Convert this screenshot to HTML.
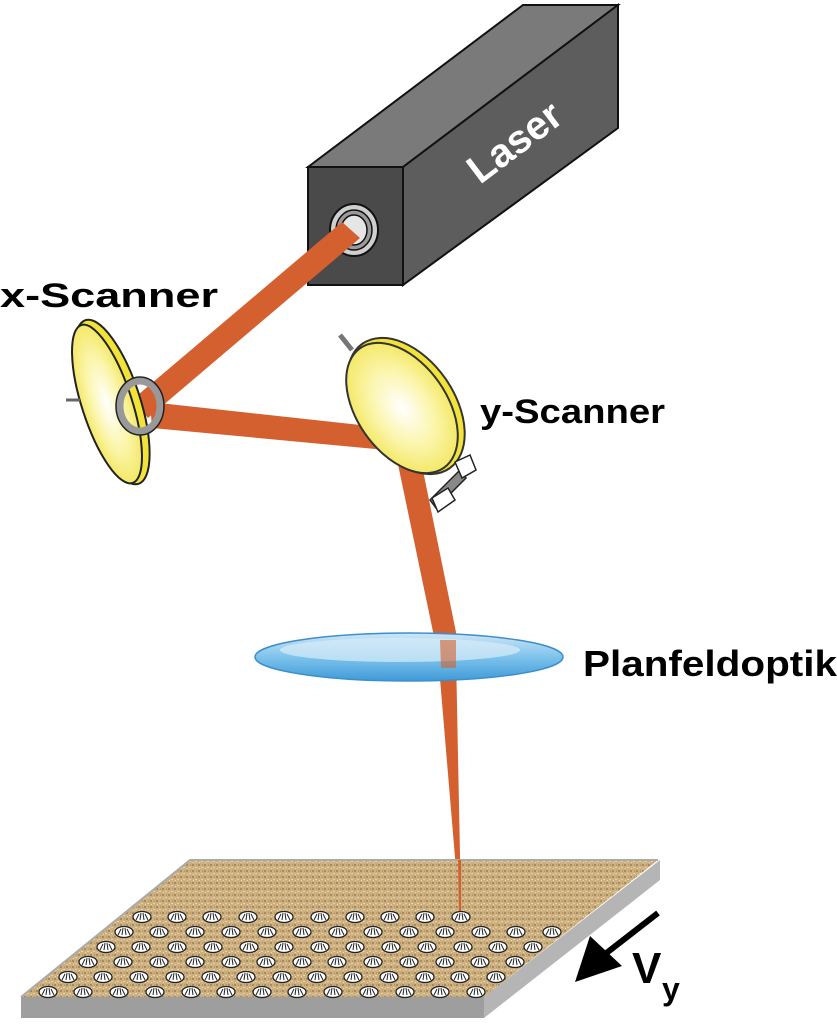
<!DOCTYPE html>
<html><head><meta charset="utf-8"><style>
html,body{margin:0;padding:0;background:#fff;}
svg{display:block;}
text{font-family:"Liberation Sans",sans-serif;font-weight:bold;}
</style></head><body>
<svg width="837" height="1024" viewBox="0 0 837 1024" xmlns="http://www.w3.org/2000/svg">
<defs>
<radialGradient id="yel" cx="0.5" cy="0.5" r="0.6">
<stop offset="0" stop-color="#ffffff"/><stop offset="0.5" stop-color="#fbf5a8"/><stop offset="1" stop-color="#f0e24a"/></radialGradient>
<linearGradient id="blue" x1="0" y1="0" x2="0" y2="1">
<stop offset="0" stop-color="#cfe6f6"/><stop offset="0.5" stop-color="#7ec3ec"/><stop offset="1" stop-color="#3f9ad8"/></linearGradient>
<pattern id="sand" width="6" height="6" patternUnits="userSpaceOnUse">
<rect width="6" height="6" fill="#cdae7c"/><rect x="0" y="0" width="2" height="2" fill="#8f7550"/><rect x="3" y="3" width="2" height="1" fill="#efe2c8"/><rect x="4" y="0" width="1" height="2" fill="#a88c60"/><rect x="1" y="4" width="1" height="1" fill="#f5ecd8"/></pattern>
<g id="dot"><ellipse cx="0" cy="0" rx="9" ry="5.5" fill="#fff" stroke="#222" stroke-width="1.3"/><path d="M-6 3 L-3 -3 M-2 3 L-1 -4 M2 3 L1 -4 M6 3 L3 -3" stroke="#222" stroke-width="1"/></g>
</defs>

<!-- Laser box -->
<polygon points="308,167 523,5 618,5 403,167" fill="#7a7a7a" stroke="#111" stroke-width="2"/>
<polygon points="403,167 618,5 618,128 403,285" fill="#5d5d5d" stroke="#111" stroke-width="2"/>
<rect x="308" y="167" width="95" height="118" fill="#4a4a4a" stroke="#111" stroke-width="2"/>
<text x="0" y="0" font-size="40" fill="#fff" transform="translate(480,185) rotate(-37)">Laser</text>
<ellipse cx="354" cy="230" rx="24" ry="26" fill="#cfcfcf" stroke="#111" stroke-width="2"/>
<ellipse cx="354" cy="230" rx="18" ry="20" fill="#9a9a9a" stroke="#111" stroke-width="1.5"/>
<ellipse cx="354" cy="230" rx="13" ry="15" fill="#e6e6e6" stroke="#111" stroke-width="1.5"/>

<!-- beams -->
<polygon points="342,222 360,238 148,418 132,400" fill="#d4602f"/>
<polygon points="150,402 388,428 386,450 152,428" fill="#d4602f"/>
<polygon points="395,450 418,446 458,642 436,646" fill="#d4602f"/>
<polygon points="438,655 456,655 461,905 459,905" fill="#d4602f"/>

<!-- x scanner -->
<ellipse cx="112" cy="402" rx="28" ry="86" transform="rotate(-18 112 402)" fill="#f2e33a" stroke="#222" stroke-width="2"/>
<ellipse cx="107" cy="404" rx="25" ry="83" transform="rotate(-18 107 404)" fill="url(#yel)" stroke="#222" stroke-width="2"/>
<line x1="66" y1="400" x2="80" y2="400" stroke="#666" stroke-width="3"/>
<ellipse cx="140" cy="406" rx="20" ry="25" fill="none" stroke="#999" stroke-width="7"/>
<ellipse cx="140" cy="406" rx="24" ry="29" fill="none" stroke="#222" stroke-width="1.5"/>
<text x="0" y="307" font-size="34" fill="#000" textLength="218" lengthAdjust="spacingAndGlyphs">x-Scanner</text>

<!-- y scanner -->
<line x1="340" y1="335" x2="352" y2="350" stroke="#777" stroke-width="5"/>
<ellipse cx="406" cy="406" rx="48" ry="76" transform="rotate(-35 406 406)" fill="#f2e33a" stroke="#333" stroke-width="2"/>
<ellipse cx="402" cy="408" rx="45" ry="73" transform="rotate(-35 402 408)" fill="url(#yel)" stroke="#333" stroke-width="2"/>
<polygon points="430,500 460,470 466,478 436,508" fill="#888" stroke="#222" stroke-width="1.5"/>
<path d="M455 462 L470 455 L476 470 L462 478 Z" fill="#fff" stroke="#222" stroke-width="1.5"/>
<path d="M432 498 L448 488 L455 500 L438 512 Z" fill="#fff" stroke="#222" stroke-width="1.5"/>
<text x="480" y="423" font-size="34" fill="#000" textLength="185" lengthAdjust="spacingAndGlyphs">y-Scanner</text>

<!-- lens -->
<ellipse cx="409" cy="657" rx="154" ry="24" fill="url(#blue)" stroke="#3d8fcc" stroke-width="1.5"/>
<ellipse cx="400" cy="650" rx="120" ry="12" fill="#d9ecf8" opacity="0.7"/>
<polygon points="440,640 456,640 456,668 441,668" fill="#d4602f" opacity="0.6"/>
<text x="583" y="676" font-size="36" fill="#000" textLength="254" lengthAdjust="spacingAndGlyphs">Planfeldoptik</text>

<!-- plate -->
<polygon points="21,997 484,997 484,1018 21,1018" fill="#9e9e9e"/>
<polygon points="484,997 660,860 660,880 484,1018" fill="#b5b5b5"/>
<polygon points="190,860 658,860 484,997 21,997" fill="url(#sand)"/>
<polygon points="190,860 658,860 484,997 21,997" fill="#d2b483" opacity="0.35"/>
<polyline points="21,997 190,860 658,860" fill="none" stroke="#aaa" stroke-width="2"/>
<polygon points="458,860 461,860 461,912 459,912" fill="#d4602f"/>

<g>
<use href="#dot" x="142" y="917"/><use href="#dot" x="177" y="917"/><use href="#dot" x="212" y="917"/><use href="#dot" x="248" y="917"/><use href="#dot" x="284" y="917"/><use href="#dot" x="320" y="917"/><use href="#dot" x="355" y="917"/><use href="#dot" x="390" y="917"/><use href="#dot" x="425" y="917"/><use href="#dot" x="461" y="917"/>
<use href="#dot" x="124" y="932"/><use href="#dot" x="159" y="932"/><use href="#dot" x="195" y="932"/><use href="#dot" x="231" y="932"/><use href="#dot" x="267" y="932"/><use href="#dot" x="302" y="932"/><use href="#dot" x="338" y="932"/><use href="#dot" x="373" y="932"/><use href="#dot" x="409" y="932"/><use href="#dot" x="445" y="932"/><use href="#dot" x="481" y="932"/><use href="#dot" x="516" y="932"/><use href="#dot" x="552" y="932"/>
<use href="#dot" x="106" y="947"/><use href="#dot" x="141" y="947"/><use href="#dot" x="177" y="947"/><use href="#dot" x="213" y="947"/><use href="#dot" x="249" y="947"/><use href="#dot" x="284" y="947"/><use href="#dot" x="320" y="947"/><use href="#dot" x="355" y="947"/><use href="#dot" x="391" y="947"/><use href="#dot" x="427" y="947"/><use href="#dot" x="463" y="947"/><use href="#dot" x="498" y="947"/><use href="#dot" x="533" y="947"/>
<use href="#dot" x="88" y="962"/><use href="#dot" x="123" y="962"/><use href="#dot" x="159" y="962"/><use href="#dot" x="195" y="962"/><use href="#dot" x="231" y="962"/><use href="#dot" x="266" y="962"/><use href="#dot" x="302" y="962"/><use href="#dot" x="337" y="962"/><use href="#dot" x="373" y="962"/><use href="#dot" x="409" y="962"/><use href="#dot" x="445" y="962"/><use href="#dot" x="480" y="962"/><use href="#dot" x="515" y="962"/>
<use href="#dot" x="68" y="977"/><use href="#dot" x="103" y="977"/><use href="#dot" x="139" y="977"/><use href="#dot" x="175" y="977"/><use href="#dot" x="211" y="977"/><use href="#dot" x="246" y="977"/><use href="#dot" x="282" y="977"/><use href="#dot" x="317" y="977"/><use href="#dot" x="353" y="977"/><use href="#dot" x="389" y="977"/><use href="#dot" x="425" y="977"/><use href="#dot" x="460" y="977"/><use href="#dot" x="496" y="977"/>
<use href="#dot" x="48" y="992"/><use href="#dot" x="83" y="992"/><use href="#dot" x="119" y="992"/><use href="#dot" x="155" y="992"/><use href="#dot" x="191" y="992"/><use href="#dot" x="226" y="992"/><use href="#dot" x="262" y="992"/><use href="#dot" x="297" y="992"/><use href="#dot" x="333" y="992"/><use href="#dot" x="369" y="992"/><use href="#dot" x="405" y="992"/><use href="#dot" x="440" y="992"/><use href="#dot" x="476" y="992"/>
</g>

<!-- arrow -->
<line x1="658" y1="913" x2="600" y2="958" stroke="#000" stroke-width="6"/>
<polygon points="575,982 590,936 622,966" fill="#000"/>
<text x="632" y="983" font-size="44" fill="#000">V</text>
<text x="662" y="1000" font-size="32" fill="#000">y</text>
</svg>
</body></html>
